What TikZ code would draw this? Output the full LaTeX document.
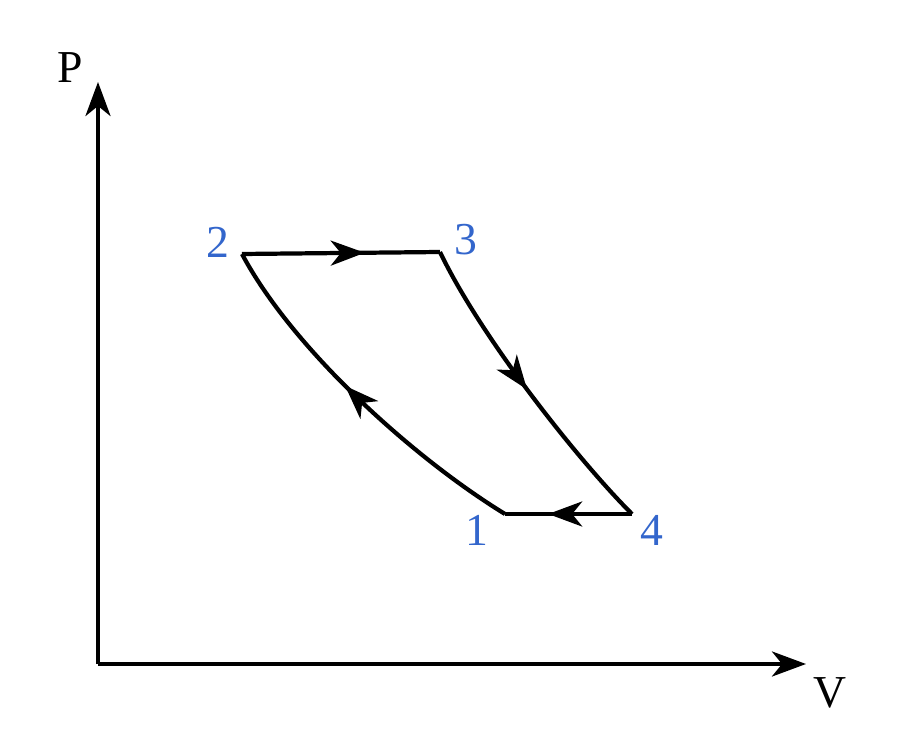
\documentclass[tikz,border=0pt]{standalone}
\usepackage{fontspec}
\setmainfont{Liberation Serif}
\usepackage{tikz}
\usetikzlibrary{arrows.meta,decorations.markings}
\definecolor{eBlue}{HTML}{3366CC}
\tikzset{ax/.style={draw, line width=1.2pt, -{Stealth[length=3.4mm, width=2.5mm, inset=1mm]}}}
\tikzset{cyc/.style={draw, line width=1.2pt, line join=miter}}
\tikzset{midarrow/.style={postaction={decorate}, decoration={markings,
  mark=at position #1 with {\arrow{Stealth[length=3.4mm, width=2.5mm, inset=1mm]}}}}}
\tikzset{lbl/.style={eBlue, font=\fontsize{13pt}{15pt}\selectfont, inner sep=0pt}}
\tikzset{axl/.style={font=\fontsize{13pt}{15pt}\selectfont, inner sep=0pt}}

\begin{document}
\begin{tikzpicture}
            \useasboundingbox (0,0) rectangle (9,7.5);
            %% axes
            \coordinate (O) at (0.98,0.86);
            \coordinate (Ptop) at (0.98,6.68);
            \coordinate (Vend) at (8.06,0.86);
            \draw [ax] (O) to (Ptop);
            \draw [ax] (O) to (Vend);
            \node (P) at (0.70,6.82) [axl] {P};
            \node (V) at (8.30,0.57) [axl] {V};
            %% states
            \coordinate (1) at (5.05,2.36);
            \coordinate (2) at (2.42,4.96);
            \coordinate (3) at (4.40,4.98);
            \coordinate (4) at (6.32,2.36);
            \node (l1) at (4.77,2.20) [lbl] {1};
            \node (l2) at (2.18,5.08) [lbl] {2};
            \node (l3) at (4.66,5.10) [lbl] {3};
            \node (l4) at (6.52,2.20) [lbl] {4};
            %% cycle
            \path [cyc, midarrow=0.62] (2) to (3);
            \path [cyc, midarrow=0.5] (3) .. controls (4.80,4.14) and (5.77,2.91) .. (4);
            \path [cyc, midarrow=0.66] (4) to (1);
            \path [cyc, midarrow=0.55] (1) .. controls (4.12,2.93) and (2.92,4.02) .. (2);
          \end{tikzpicture}
\end{document}
